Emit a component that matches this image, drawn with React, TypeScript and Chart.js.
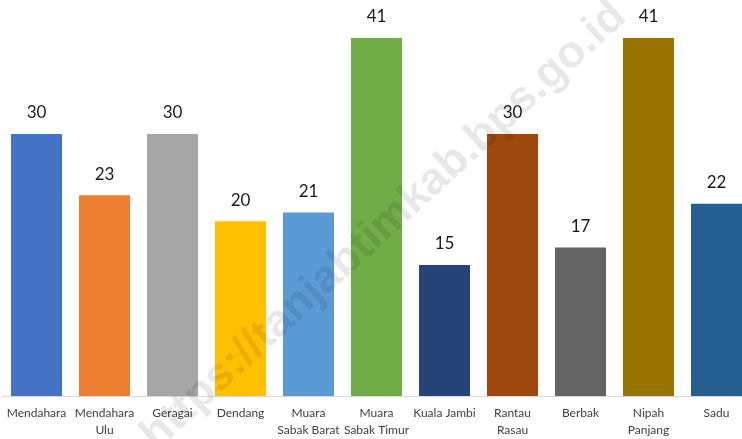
import React, { useEffect, useRef } from "react";
import { Chart, registerables } from "chart.js";

Chart.register(...registerables);

const categories: string[][] = [
  ["Mendahara"],
  ["Mendahara", "Ulu"],
  ["Geragai"],
  ["Dendang"],
  ["Muara", "Sabak Barat"],
  ["Muara", "Sabak Timur"],
  ["Kuala Jambi"],
  ["Rantau", "Rasau"],
  ["Berbak"],
  ["Nipah", "Panjang"],
  ["Sadu"],
];
const values: number[] = [30, 23, 30, 20, 21, 41, 15, 30, 17, 41, 22];
const barColors: string[] = [
  "#4472C4",
  "#ED7D31",
  "#A5A5A5",
  "#FFC000",
  "#5B9BD5",
  "#70AD47",
  "#264478",
  "#9E480E",
  "#636363",
  "#997300",
  "#255E91",
];
const watermarkText = "https://tanjabtimkab.bps.go.id";

const FONT = "Lato, 'Liberation Sans', sans-serif";

const dataLabelPlugin = {
  id: "dataLabels",
  afterDatasetsDraw(chart: any) {
    const ctx = chart.ctx;
    const meta = chart.getDatasetMeta(0);
    ctx.save();
    ctx.font = `17px ${FONT}`;
    ctx.fillStyle = "#1a1a1a";
    ctx.textAlign = "center";
    ctx.textBaseline = "middle";
    meta.data.forEach((bar: any, i: number) => {
      ctx.fillText(String(values[i]), bar.x, bar.y - 21);
    });
    ctx.restore();
  },
};

const watermarkPlugin = {
  id: "watermark",
  afterDraw(chart: any) {
    const ctx = chart.ctx;
    ctx.save();
    ctx.translate(384, 226);
    ctx.rotate((-42.5 * Math.PI) / 180);
    ctx.font = `bold 45px 'Liberation Sans', Arial, sans-serif`;
    ctx.fillStyle = "rgba(0,0,0,0.09)";
    ctx.textAlign = "center";
    ctx.textBaseline = "middle";
    ctx.fillText(watermarkText, 0, 0);
    ctx.restore();
  },
};

export default function App() {
  const canvasRef = useRef<HTMLCanvasElement | null>(null);

  useEffect(() => {
    document.body.style.overflow = "hidden";
    const canvas = canvasRef.current!;
    const chart = new Chart(canvas, {
      type: "bar",
      data: {
        labels: categories,
        datasets: [
          {
            data: values,
            backgroundColor: barColors,
            borderWidth: 0,
            categoryPercentage: 1,
            barPercentage: 0.75,
          },
        ],
      },
      options: {
        responsive: false,
        animation: false,
        devicePixelRatio: 1,
        layout: { padding: { left: 2.5, right: 0.5, top: 3, bottom: 0 } },
        plugins: {
          legend: { display: false },
          tooltip: { enabled: false },
        },
        scales: {
          x: {
            grid: { display: false, drawTicks: false },
            border: { display: true, color: "#d9d9d9", width: 1 },
            ticks: {
              autoSkip: false,
              maxRotation: 0,
              minRotation: 0,
              padding: 9,
              color: "#404040",
              font: { family: FONT, size: 12, lineHeight: 1.4 },
            },
            afterFit: (scale: any) => {
              scale.height = 43;
              scale.paddingLeft = 0;
              scale.paddingRight = 0;
            },
          },
          y: {
            display: false,
            min: 0,
            max: 45,
          },
        },
      },
      plugins: [dataLabelPlugin, watermarkPlugin],
    });
    return () => chart.destroy();
  }, []);

  return (
    <div style={{ position: "fixed", left: 0, top: 0, width: 751, height: 439, background: "#fff" }}>
      <canvas ref={canvasRef} width={751} height={439} style={{ display: "block" }} />
    </div>
  );
}
